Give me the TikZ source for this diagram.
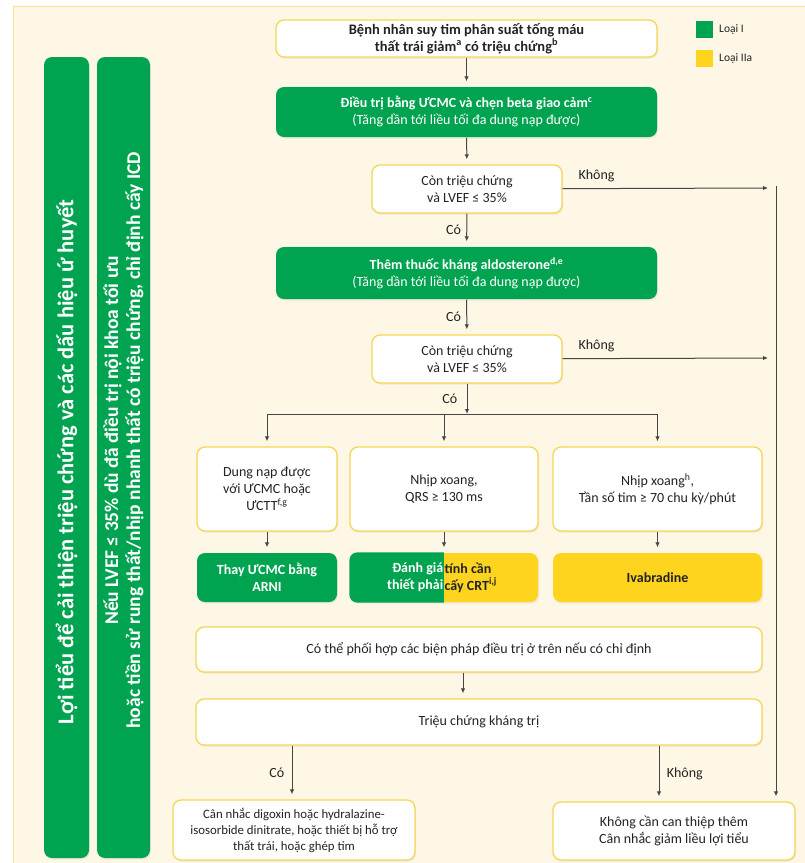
\documentclass[tikz,border=0pt]{standalone}
\usepackage{fontspec}
\setmainfont{Carlito}
\usetikzlibrary{arrows.meta,shadows,positioning}
\definecolor{escgreen}{RGB}{0,163,80}
\definecolor{escyellow}{RGB}{255,212,30}
\definecolor{cream}{RGB}{254,247,230}
\definecolor{rim}{RGB}{246,214,84}
\definecolor{frame}{RGB}{250,228,150}
\definecolor{arrowgray}{RGB}{70,70,70}
\definecolor{ink}{RGB}{35,35,35}

\begin{document}
\begin{tikzpicture}[x=1pt,y=-1pt,
    box/.style={draw=rim,line width=1.3pt,fill=white,rounded corners=8pt,align=center,inner sep=2pt,text=ink,
        font=\fontsize{14}{17}\selectfont,drop shadow={opacity=0.12,shadow xshift=1pt,shadow yshift=-1.5pt}},
    gbox/.style={box,draw=none,fill=escgreen,text=white},
    ybox/.style={box,draw=none,fill=escyellow},
    arr/.style={-{Latex[length=5pt,width=4.5pt]},draw=arrowgray,line width=1pt,shorten >=5pt},
    lbl/.style={font=\fontsize{14}{17}\selectfont,text=ink}]
\useasboundingbox (0,0) rectangle (805,863);
\fill[white] (0,0) rectangle (805,863);
\filldraw[fill=cream,draw=frame,line width=1pt] (13.5,6.5) rectangle (810,870);

\node[fill=escgreen,minimum size=17pt,inner sep=0] (lgI) at (704,29.5) {};
\node[fill=escyellow,minimum size=17pt,inner sep=0] (lgIIa) at (704,58.5) {};
\node[right=3pt of lgI,lbl,font=\fontsize{11.5}{13}\selectfont] (tI) {Loại I};
\node[right=3pt of lgIIa,lbl,font=\fontsize{11.5}{13}\selectfont] (tIIa) {Loại IIa};

\node[gbox,minimum width=45pt,minimum height=801pt] (bar1) at (66.5,457.5) {};
\node[gbox,minimum width=53pt,minimum height=801pt] (bar2) at (123.5,457.5) {};
\node[rotate=90,anchor=west,text=white,font=\bfseries\fontsize{22.5}{25}\selectfont] (bartext1) at (66.5,728) {Lợi tiểu để cải thiện triệu chứng và các dấu hiệu ứ huyết};
\node[rotate=90,anchor=west,align=center,text=white,font=\bfseries\fontsize{19.5}{22}\selectfont] (bartext2) at (123.5,732)
    {Nếu LVEF ≤ 35\% dù đã điều trị nội khoa tối ưu\\hoặc tiền sử rung thất/nhịp nhanh thất có triệu chứng, chỉ định cấy ICD};

\node[box,minimum width=381pt,minimum height=37pt,font=\bfseries\fontsize{14.5}{17}\selectfont] (start) at (466.5,38.5)
    {Bệnh nhân suy tim phân suất tống máu\\thất trái giảm\textsuperscript{a} có triệu chứng\textsuperscript{b}};
\node[gbox,minimum width=381pt,minimum height=50pt] (acei) at (466.5,112)
    {\textbf{Điều trị bằng ƯCMC và chẹn beta giao cảm\textsuperscript{c}}\\(Tăng dần tới liều tối đa dung nạp được)};
\node[box,minimum width=190pt,minimum height=48pt] (check1) at (467,189) {Còn triệu chứng\\và LVEF ≤ 35\%};
\node[gbox,minimum width=381pt,minimum height=52pt] (mra) at (466.5,273)
    {\textbf{Thêm thuốc kháng aldosterone\textsuperscript{d,e}}\\(Tăng dần tới liều tối đa dung nạp được)};
\node[box,minimum width=190pt,minimum height=48pt] (check2) at (467,359) {Còn triệu chứng\\và LVEF ≤ 35\%};

\coordinate (fork) at (467,414);
\coordinate (no1) at (768,188);
\coordinate (no2) at (768,358);
\coordinate (rail) at (776,186);

\node[box,minimum width=140pt,minimum height=84pt] (tol) at (267,489) {Dung nạp được\\với ƯCMC hoặc\\ƯCTT\textsuperscript{f,g}};
\node[box,minimum width=188pt,minimum height=84pt] (qrs) at (444,489) {Nhịp xoang,\\QRS ≥ 130 ms};
\node[box,minimum width=209pt,minimum height=84pt] (sinus) at (657.5,489) {Nhịp xoang\textsuperscript{h},\\Tần số tim ≥ 70 chu kỳ/phút};

\node[gbox,minimum width=140pt,minimum height=49pt,font=\bfseries\fontsize{14}{17}\selectfont] (arni) at (267,577.5) {Thay ƯCMC bằng\\ARNI};
\node[ybox,minimum width=188pt,minimum height=49pt] (crt) at (444,577.5) {};
\begin{scope}
  \clip[rounded corners=8pt] (crt.south west) rectangle (crt.north east);
  \fill[escgreen] (crt.north west) rectangle (crt.south);
\end{scope}
\node[anchor=east,align=right,inner xsep=0.5pt,text=white,font=\bfseries\fontsize{14}{17}\selectfont] (crtL) at (crt.center) {Đánh giá\\thiết phải};
\node[anchor=west,align=left,inner xsep=0.5pt,text=ink,font=\bfseries\fontsize{14}{17}\selectfont] (crtR) at (crt.center) {tính cần\\cấy CRT\textsuperscript{i,j}};
\node[ybox,minimum width=209pt,minimum height=49pt,font=\bfseries\fontsize{14}{17}\selectfont] (ivab) at (657.5,577.5) {Ivabradine};

\node[box,minimum width=566pt,minimum height=45pt] (combo) at (479,649.5) {Có thể phối hợp các biện pháp điều trị ở trên nếu có chỉ định};
\node[box,minimum width=566pt,minimum height=46pt] (refr) at (479,722) {Triệu chứng kháng trị};
\node[box,minimum width=242pt,minimum height=60pt,font=\fontsize{12.8}{16}\selectfont] (advanced) at (294,830)
    {Cân nhắc digoxin hoặc hydralazine-\\isosorbide dinitrate, hoặc thiết bị hỗ trợ\\thất trái, hoặc ghép tim};
\node[box,minimum width=242pt,minimum height=58pt] (nomore) at (674,831)
    {Không cần can thiệp thêm\\Cân nhắc giảm liều lợi tiểu};

\draw[arr] (start) -- (acei);
\draw[arr] (acei) -- (check1);
\draw[arr] (check1) -- node[lbl,left=2pt] {Có} (mra);
\draw[arr] (mra) -- node[lbl,left=2pt] {Có} (check2);
\draw[arr,shorten >=0pt] (check2) -- node[lbl,left=6pt] {Có} (fork);
\draw[arr,shorten >=0pt] (check1) -- node[lbl,above=3pt,pos=0.165] {Không} (no1);
\draw[arr,shorten >=0pt] (check2) -- node[lbl,above=3pt,pos=0.165] {Không} (no2);
\draw[arr] (fork) -| (tol);
\draw[arr] (fork) -| (qrs);
\draw[arr] (fork) -| (sinus);
\draw[arr] (tol) -- (arni);
\draw[arr] (qrs) -- (crt);
\draw[arr] (sinus) -- (ivab);
\draw[arr] (combo.south -| 463,0) -- (refr.north -| 463,0);
\draw[arr] (refr.south -| 292,0) -- node[lbl,left=4pt] {Có} (advanced.north -| 292,0);
\draw[arr] (refr.south -| 659,0) -- node[lbl,right=4pt] {Không} (nomore.north -| 659,0);
\draw[arr] (rail) -- (nomore.north -| rail);
\end{tikzpicture}
\end{document}
